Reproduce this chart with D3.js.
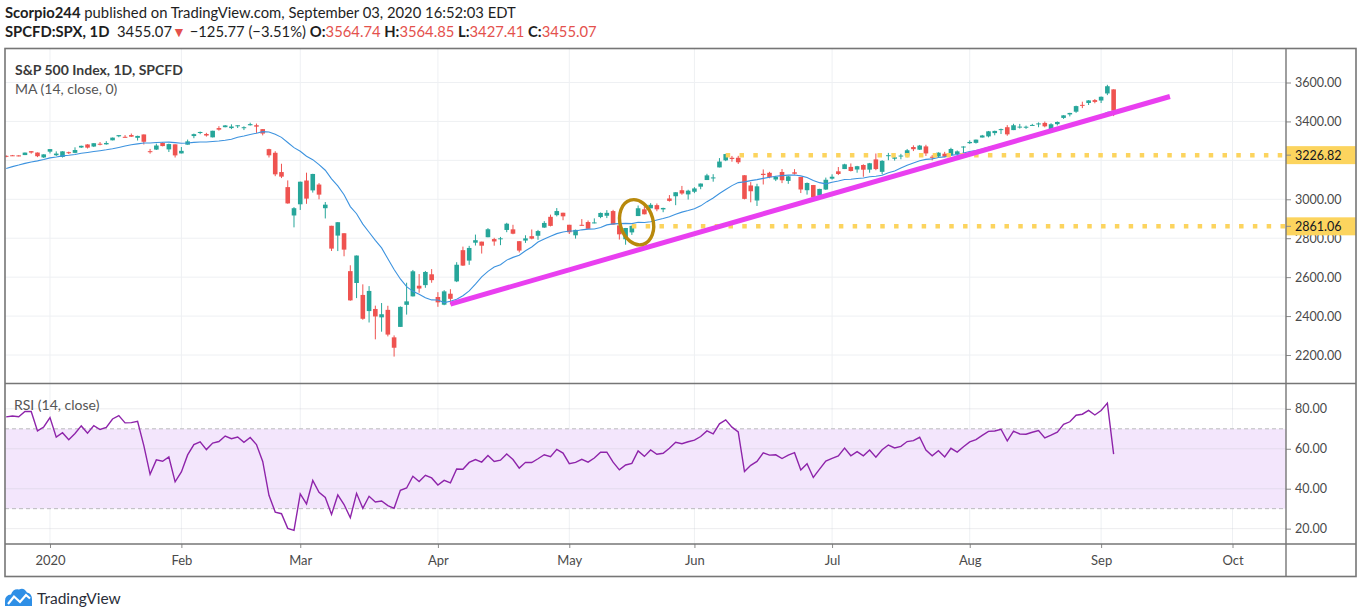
<!DOCTYPE html>
<html><head><meta charset="utf-8">
<script src="https://cdn.jsdelivr.net/npm/d3@7"></script>
<style>
html,body{margin:0;padding:0;background:#fff;}
svg{display:block;font-family:Lato,'Open Sans',sans-serif;}
</style></head><body>
<svg id="c" width="1358" height="610"></svg>
<script>
// ---------------- DATA ----------------
const firstDate = "2019-12-20";
const holidays = ["2019-12-25","2020-01-01","2020-01-20","2020-02-17","2020-04-10","2020-05-25","2020-07-03","2020-09-07"];
const futureBars = 30;

const opens = [
 3223.33,3226.05,3225.45,3227.20,3247.23,3240.09,3215.18,
 3244.67,3226.36,3217.55,3241.86,3238.59,3266.03,3281.81,3271.13,3285.35,3282.27,3302.97,3323.66,3321.03,3330.02,3315.77,3333.10,3247.16,3255.35,3289.46,3256.45,3282.33,
 3235.66,3280.61,3324.91,3344.92,3335.54,3318.28,3365.87,3370.50,3365.90,3378.08,3369.04,3380.39,3380.45,3360.50,3257.61,3238.94,3139.90,3062.54,2916.90,
 2974.28,3096.46,3045.75,3075.70,2954.20,2863.89,2813.48,2825.60,2630.86,2569.99,2508.59,2425.66,2436.50,2393.48,2431.94,2290.71,2344.44,2457.77,2501.29,2555.87,2558.98,2614.69,
 2498.08,2458.54,2514.92,2578.28,2738.65,2685.00,2776.99,2782.46,2805.10,2795.64,2799.34,2842.43,2845.62,2784.81,2787.89,2810.42,2812.64,2854.65,2909.96,2918.46,2930.91,
 2869.09,2815.01,2868.88,2883.14,2878.26,2908.83,2915.46,2939.50,2865.86,2794.54,2829.95,2913.86,2948.59,2953.63,2969.95,2948.05,3004.08,3015.65,3046.61,3025.17,
 3038.78,3064.78,3098.90,3111.56,3163.84,3199.92,3213.32,3213.42,3123.53,3071.04,2993.76,3131.00,3136.13,3101.64,3140.29,3094.42,3138.70,3114.40,3046.60,3073.20,3018.59,3050.20,
 3105.92,3143.64,3155.29,3166.44,3153.07,3176.17,3152.47,3205.08,3141.11,3225.98,3208.36,3224.21,3224.29,3268.52,3254.86,3271.64,3218.58,3219.84,3234.27,3227.22,3231.76,3270.45,
 3288.26,3289.92,3317.37,3323.17,3340.05,3356.04,3370.34,3355.46,3372.95,3368.66,3380.86,3387.04,3392.51,3360.48,3386.01,3418.09,3435.95,3449.97,3485.14,3494.69,3509.73,
 3507.44,3543.76,3564.74];
const highs = [
 3225.65,3227.78,3226.43,3240.08,3247.93,3240.92,3231.72,
 3258.14,3246.15,3246.84,3244.91,3267.07,3275.58,3282.99,3288.13,3294.25,3298.66,3317.11,3329.88,3329.79,3337.77,3326.88,3333.18,3258.85,3285.78,3293.47,3285.91,3282.33,
 3268.44,3306.92,3337.58,3347.96,3341.42,3352.26,3375.63,3381.47,3385.09,3380.69,3375.01,3393.52,3389.15,3360.76,3259.81,3246.99,3182.51,3097.07,2959.72,
 3090.96,3136.72,3130.97,3083.04,2985.93,2863.89,2882.59,2825.60,2660.95,2711.33,2562.98,2553.93,2453.57,2466.97,2453.01,2300.73,2449.71,2571.42,2637.01,2615.91,2631.80,2641.39,
 2522.75,2533.22,2538.18,2676.85,2756.89,2760.75,2818.57,2782.46,2851.85,2801.88,2806.51,2879.22,2868.98,2785.54,2815.10,2844.90,2842.71,2887.72,2921.15,2954.86,2930.91,
 2869.09,2844.24,2898.23,2891.11,2901.92,2932.16,2944.25,2945.82,2874.14,2852.80,2865.01,2968.09,2964.21,2980.29,2978.50,2956.76,3021.72,3036.25,3068.67,3049.17,
 3062.18,3081.07,3130.94,3128.91,3211.72,3233.13,3222.71,3223.27,3123.53,3088.42,3079.76,3153.45,3141.16,3120.00,3155.53,3120.92,3154.90,3115.01,3086.25,3073.73,3053.89,3111.51,
 3128.44,3165.81,3182.59,3184.15,3171.80,3179.78,3186.82,3235.32,3200.95,3238.28,3220.39,3233.52,3258.61,3277.29,3279.32,3279.99,3227.26,3241.43,3243.72,3264.74,3250.92,3272.17,
 3302.73,3306.84,3330.77,3351.03,3352.54,3363.29,3381.01,3387.89,3387.24,3378.51,3387.59,3395.06,3399.54,3390.80,3399.96,3432.09,3444.21,3481.07,3501.38,3509.23,3514.77,
 3528.03,3588.11,3564.85];
const lows = [
 3216.03,3222.30,3220.51,3227.20,3234.37,3216.57,3212.03,
 3235.53,3222.34,3214.64,3232.43,3236.67,3263.67,3260.86,3268.43,3277.19,3280.69,3302.82,3318.86,3316.61,3320.04,3301.87,3281.53,3234.50,3253.22,3271.89,3242.80,3214.68,
 3235.66,3280.61,3313.75,3334.39,3322.12,3317.77,3352.72,3369.72,3360.52,3366.15,3355.61,3378.83,3341.02,3328.45,3214.65,3118.77,3108.99,2977.39,2855.84,
 2945.19,2976.63,3034.38,2999.83,2901.54,2734.43,2734.00,2707.22,2478.86,2492.37,2380.94,2367.04,2280.52,2319.78,2295.56,2191.86,2344.44,2407.53,2500.72,2520.02,2545.28,2571.15,
 2447.49,2455.79,2459.96,2574.57,2657.67,2663.30,2762.36,2721.17,2805.10,2761.54,2764.32,2830.88,2820.43,2727.10,2775.95,2794.26,2791.76,2852.89,2860.71,2912.16,2892.47,
 2821.61,2797.85,2863.55,2847.65,2876.48,2902.88,2903.44,2869.59,2793.15,2766.64,2816.78,2913.86,2922.35,2953.63,2938.57,2933.59,2988.17,2969.75,3023.40,2998.61,
 3031.54,3051.64,3098.90,3090.41,3163.84,3196.00,3193.11,3181.49,2999.49,2984.47,2965.66,3076.06,3108.03,3093.51,3083.11,3079.39,3127.12,3032.13,3024.01,3004.63,2999.74,3047.83,
 3101.17,3124.52,3155.29,3142.93,3136.53,3115.70,3136.22,3149.43,3127.66,3200.76,3198.59,3205.65,3215.16,3247.77,3253.10,3222.66,3200.05,3214.25,3216.17,3227.22,3204.13,3220.26,
 3284.53,3286.37,3317.37,3318.14,3328.72,3335.44,3326.44,3355.46,3363.35,3361.64,3379.22,3370.15,3369.66,3354.69,3379.31,3413.13,3425.84,3444.15,3468.35,3484.32,3493.25,
 3494.60,3535.23,3427.41];
const closes = [
 3221.22,3224.01,3223.38,3239.91,3240.02,3221.29,3230.78,
 3257.85,3234.85,3246.28,3237.18,3253.05,3274.70,3265.35,3288.13,3283.15,3289.29,3316.81,3329.62,3320.79,3321.75,3325.54,3295.47,3243.63,3276.24,3273.40,3283.66,3225.52,
 3248.92,3297.59,3334.69,3345.78,3327.71,3352.09,3357.75,3379.45,3373.94,3380.16,3370.29,3386.15,3373.23,3337.75,3225.89,3128.21,3116.39,2978.76,2954.22,
 3090.23,3003.37,3130.12,3023.94,2972.37,2746.56,2882.23,2741.38,2480.64,2711.02,2386.13,2529.19,2398.10,2409.39,2304.92,2237.40,2447.33,2475.56,2630.07,2541.47,2626.65,2584.59,
 2470.50,2526.90,2488.65,2663.68,2659.41,2749.98,2789.82,2761.63,2846.06,2783.36,2799.55,2874.56,2823.16,2736.56,2799.31,2797.80,2836.74,2878.48,2863.39,2939.51,2912.43,
 2830.71,2842.74,2868.44,2848.42,2881.19,2929.80,2930.32,2870.12,2820.00,2852.50,2863.70,2953.91,2922.94,2971.61,2948.51,2955.45,2991.77,3036.13,3029.73,3044.31,
 3055.73,3080.82,3122.87,3112.35,3193.93,3232.39,3207.18,3190.14,3002.10,3041.31,3066.59,3124.74,3113.49,3115.34,3097.74,3117.86,3131.29,3050.33,3083.76,3009.05,3053.24,3100.29,
 3115.86,3130.01,3179.72,3145.32,3169.94,3152.05,3185.04,3155.22,3197.52,3226.56,3215.57,3224.73,3251.84,3257.30,3276.02,3235.66,3215.63,3239.41,3218.44,3258.44,3246.22,3271.12,
 3294.61,3306.51,3327.77,3349.16,3351.28,3360.47,3333.69,3380.35,3373.43,3372.85,3381.99,3389.78,3374.85,3385.51,3397.16,3431.28,3443.62,3478.73,3484.55,3508.01,3500.31,
 3526.65,3580.84,3455.07];
// closes before the first visible bar (warm-up for MA and RSI)
const priorCloses = [
 2906.27,2937.78,2976.00,2978.71,2978.43,2979.39,3000.93,3009.57,3007.39,2997.96,3005.70,3006.73,3006.79,2992.07,2991.78,2966.60,2984.87,2977.62,2961.79,2976.74,
 2940.25,2887.61,2910.63,2952.01,2938.79,2893.06,2919.40,2938.13,2970.27,2966.15,2995.68,2989.69,2997.95,2986.20,3006.72,2995.99,3004.52,3010.29,3022.55,3039.42,3036.89,3046.77,3037.56,
 3066.91,3078.27,3074.62,3076.78,3085.18,3093.08,3087.01,3091.84,3094.04,3096.63,3120.46,3122.03,3120.18,3108.46,3103.54,3110.29,3133.64,3140.52,3153.63,3140.98,
 3113.87,3093.20,3112.76,3117.43,3145.91,3135.96,3132.52,3141.63,3168.57,3168.80,3191.45,3192.52,3191.14,3205.37];

const priceTicks = [2200,2400,2600,2800,3000,3200,3400,3600];
const rsiTicks = [20,40,60,80];
const rsiBand = [30,70];
const monthNames = ["2020","Feb","Mar","Apr","May","Jun","Jul","Aug","Sep","Oct","Nov","Dec"];
const levelPrices = [3226.82, 2861.06];
const levelStartDates = ["2020-06-08","2020-05-15"];
const trendDates = ["2020-04-03","2020-09-17"];
const trendPrices = [2461.5, 3528];
const ellipseDate = "2020-05-18";
const ellipsePrice = 2882;
const maLength = 14, rsiLength = 14;

// ---------------- SETUP ----------------
const svg = d3.select("#c");
const L = 5, R = 1286, AX = 1356;
const mainTop = 48.5, mainBot = 383.5, rsiBot = 544, frameBot = 576.5;

// trading-day calendar
const hol = new Set(holidays);
const dates = [];
{ let d = new Date(firstDate + "T00:00:00Z");
  while (dates.length < closes.length + futureBars) {
    const s = d.toISOString().slice(0,10), w = d.getUTCDay();
    if (w !== 0 && w !== 6 && !hol.has(s)) dates.push(s);
    d.setUTCDate(d.getUTCDate() + 1);
  } }
const idx = s => dates.indexOf(s);

const x = d3.scaleLinear().domain([-0.19, 204.55]).range([L, R]);
const y = d3.scaleLinear().domain([2053.6, 3774.7]).range([mainBot, mainTop]);
const yr = d3.scaleLinear().domain([12.3, 92.7]).range([rsiBot, mainBot]);

const monthIdx = [];
for (let i = 1; i < dates.length; i++)
  if (dates[i].slice(5,7) !== dates[i-1].slice(5,7) && x(i) < R) monthIdx.push(i);
const monthLabel = i => monthNames[+dates[i].slice(5,7) - 1];

// indicators
const all = priorCloses.concat(closes), P = priorCloses.length;
const ma = closes.map((c, i) => d3.mean(all.slice(P + i - maLength + 1, P + i + 1)));
const rsi = [];
{ let ag = 0, al = 0;
  for (let k = 1; k < all.length; k++) {
    const ch = all[k] - all[k-1], g = Math.max(ch, 0), l = Math.max(-ch, 0);
    if (k <= rsiLength) { ag += g / rsiLength; al += l / rsiLength; }
    else { ag = (ag * (rsiLength - 1) + g) / rsiLength; al = (al * (rsiLength - 1) + l) / rsiLength; }
    if (k >= P) rsi.push(100 - 100 / (1 + ag / al));
  } }

// clips
const defs = svg.append("defs");
defs.append("clipPath").attr("id","clipMain").append("rect").attr("x",L).attr("y",mainTop).attr("width",R-L).attr("height",mainBot-mainTop);
defs.append("clipPath").attr("id","clipRsi").append("rect").attr("x",L).attr("y",mainBot).attr("width",R-L).attr("height",rsiBot-mainBot);

const gridC = "#eef0f3";
// grid
const grid = svg.append("g");
grid.selectAll(".vg").data(monthIdx).join("line")
  .attr("x1", d => x(d)).attr("x2", d => x(d)).attr("y1", mainTop).attr("y2", rsiBot)
  .attr("stroke", gridC).attr("stroke-width", 1);
grid.selectAll(".hg").data(priceTicks).join("line")
  .attr("x1", L).attr("x2", R).attr("y1", d => y(d)).attr("y2", d => y(d))
  .attr("stroke", gridC);

// RSI band
const rg = svg.append("g").attr("clip-path","url(#clipRsi)");
rg.append("rect").attr("x", L).attr("width", R-L).attr("y", yr(rsiBand[1])).attr("height", yr(rsiBand[0]) - yr(rsiBand[1]))
  .attr("fill", "#f3e6fc");
rg.selectAll(".rgl").data(rsiTicks).join("line")
  .attr("x1", L).attr("x2", R).attr("y1", d => yr(d)).attr("y2", d => yr(d)).attr("stroke", "rgba(200,200,210,0.35)");
rg.selectAll(".bl").data(rsiBand).join("line")
  .attr("x1", L).attr("x2", R).attr("y1", d => yr(d)).attr("y2", d => yr(d))
  .attr("stroke", "#b9b9bd").attr("stroke-dasharray", "4 3");
rg.append("path").datum(rsi).attr("fill","none").attr("stroke","#8e24aa").attr("stroke-width",1.4)
  .attr("d", d3.line().x((d,i) => x(i)).y(d => yr(d)));

// candles
const mg = svg.append("g").attr("clip-path","url(#clipMain)");
const up = "#26a69a", dn = "#ef5350";
const bars = closes.map((c, i) => ({i, o: opens[i], h: highs[i], l: lows[i], c}));
mg.selectAll(".wick").data(bars).join("line")
  .attr("x1", d => x(d.i)).attr("x2", d => x(d.i)).attr("y1", d => y(d.h)).attr("y2", d => y(d.l))
  .attr("stroke", d => d.c >= d.o ? up : dn).attr("stroke-width", 1);
mg.selectAll(".body").data(bars).join("rect")
  .attr("x", d => x(d.i) - 2.3).attr("width", 4.6)
  .attr("y", d => y(Math.max(d.o, d.c)))
  .attr("height", d => Math.max(1, Math.abs(y(d.o) - y(d.c))))
  .attr("fill", d => d.c >= d.o ? up : dn);

// MA
mg.append("path").datum(ma).attr("fill","none").attr("stroke","#3d93df").attr("stroke-width",1.1)
  .attr("d", d3.line().x((d,i) => x(i)).y(d => y(d)));

// level lines
const lvlC = "#fcd45e";
mg.selectAll(".lvl").data(levelPrices).join("line")
  .attr("x1", (d,k) => x(idx(levelStartDates[k]))).attr("x2", R)
  .attr("y1", d => y(d)).attr("y2", d => y(d))
  .attr("stroke", lvlC).attr("stroke-width", 4.5).attr("stroke-dasharray", "4.5 9.3");

// trend line
mg.append("line")
  .attr("x1", x(idx(trendDates[0]))).attr("y1", y(trendPrices[0]))
  .attr("x2", x(idx(trendDates[1]))).attr("y2", y(trendPrices[1]))
  .attr("stroke", "#e93ff0").attr("stroke-width", 5);

// ellipse
{ const cx = x(idx(ellipseDate)) - 1.5, cy = y(ellipsePrice);
  mg.append("ellipse").attr("cx", cx).attr("cy", cy).attr("rx", 16.5).attr("ry", 23)
    .attr("transform", `rotate(-16 ${cx} ${cy})`)
    .attr("fill", "none").attr("stroke", "#b8890c").attr("stroke-width", 3.4); }

// legends
svg.append("text").attr("x", 15).attr("y", 75).attr("font-size", 14).attr("font-weight", 700).attr("fill", "#3a3a3a")
  .text("S&P 500 Index, 1D, SPCFD");
svg.append("text").attr("x", 15).attr("y", 94).attr("font-size", 14).attr("fill", "#555")
  .text("MA (14, close, 0)");
svg.append("text").attr("x", 14).attr("y", 410).attr("font-size", 14).attr("fill", "#555")
  .text("RSI (14, close)");

// price axis
const axC = "#4a4a4a";
function styleAxis(g) {
  g.select(".domain").remove();
  g.selectAll(".tick line").attr("stroke", "#8a8a8a");
  g.selectAll(".tick text").attr("fill", axC).attr("font-size", 12.5).attr("font-family", "Lato,'Open Sans',sans-serif");
}
const pa = svg.append("g").attr("transform", `translate(${R},0)`)
  .call(d3.axisRight(y).tickValues(priceTicks).tickFormat(d3.format(".2f")).tickSize(5).tickPadding(4));
styleAxis(pa);
pa.selectAll(".tick").filter(d => levelPrices.some(p => Math.abs(y(p) - y(d)) < 9)).select("text").remove();
const ra = svg.append("g").attr("transform", `translate(${R},0)`)
  .call(d3.axisRight(yr).tickValues(rsiTicks).tickFormat(d3.format(".2f")).tickSize(5).tickPadding(4));
styleAxis(ra);

// level labels
const lb = svg.append("g").selectAll("g").data(levelPrices).join("g").attr("transform", d => `translate(${R},${y(d)})`);
lb.append("rect").attr("x", 0).attr("y", -9).attr("width", AX - R).attr("height", 18).attr("fill", lvlC);
lb.append("line").attr("x1", 0).attr("x2", 5).attr("stroke", "#8a8a8a");
lb.append("text").attr("x", 9).attr("dy", "0.35em").attr("font-size", 12.5).attr("fill", "#131722").text(d3.format(".2f"));

// time axis
const ta = svg.append("g").attr("transform", `translate(0,${rsiBot})`)
  .call(d3.axisBottom(x).tickValues(monthIdx).tickFormat(monthLabel).tickSize(4).tickPadding(8));
styleAxis(ta);
ta.selectAll(".tick text").attr("font-size", 13);

// frame
const fc = "#767676";
svg.append("rect").attr("x", L).attr("y", mainTop).attr("width", AX - L).attr("height", frameBot - mainTop)
  .attr("fill", "none").attr("stroke", fc).attr("stroke-width", 1.6);
svg.append("line").attr("x1", L).attr("x2", AX).attr("y1", mainBot).attr("y2", mainBot).attr("stroke", fc).attr("stroke-width", 1.4);
svg.append("line").attr("x1", L).attr("x2", AX).attr("y1", rsiBot).attr("y2", rsiBot).attr("stroke", fc).attr("stroke-width", 1.4);
svg.append("line").attr("x1", R).attr("x2", R).attr("y1", mainTop).attr("y2", frameBot).attr("stroke", fc).attr("stroke-width", 1.4);

// header
const n = closes.length - 1, chg = closes[n] - closes[n-1], pct = chg / closes[n-1] * 100;
const f2 = d3.format(".2f");
const red = "#e4514d";
const h1 = svg.append("text").attr("x", 5).attr("y", 18).attr("font-size", 14.8).attr("fill", "#1e1e1e");
h1.append("tspan").attr("font-weight", 700).text("Scorpio244");
h1.append("tspan").text(" published on TradingView.com, September 03, 2020 16:52:03 EDT");
const h2 = svg.append("text").attr("x", 5).attr("y", 37).attr("font-size", 14.8).attr("fill", "#1e1e1e");
h2.append("tspan").attr("font-weight", 700).text("SPCFD:SPX, 1D");
h2.append("tspan").text("\u00a0 " + f2(closes[n]));
h2.append("tspan").attr("fill", red).attr("font-size", 14).text("\u25BC");
h2.append("tspan").text(" " + (chg < 0 ? "\u2212" : "+") + f2(Math.abs(chg)) + " (" + (pct < 0 ? "\u2212" : "+") + f2(Math.abs(pct)) + "%) ");
[["O:", opens[n]], ["H:", highs[n]], ["L:", lows[n]], ["C:", closes[n]]].forEach(([k, v], j) => {
  h2.append("tspan").attr("font-weight", 700).text((j ? " " : "") + k);
  h2.append("tspan").attr("fill", red).text(f2(v));
});

// logo
const lg = svg.append("g");
lg.append("path").attr("d", "M5,606 L5,601 Q5,595 11,594.5 Q13,588.5 19,589.5 Q24,587 27,592.5 Q32,593.5 32,599.5 L32,606 Z")
  .attr("fill", "#2e8fe6");
lg.append("polyline").attr("points", "8,604 14,596.5 20,602 26,595 30,598.5").attr("fill", "none").attr("stroke", "#fff").attr("stroke-width", 2.2);
svg.append("text").attr("x", 37).attr("y", 603.5).attr("font-size", 15.5).attr("fill", "#2a2e39").text("TradingView");
</script></body></html>
